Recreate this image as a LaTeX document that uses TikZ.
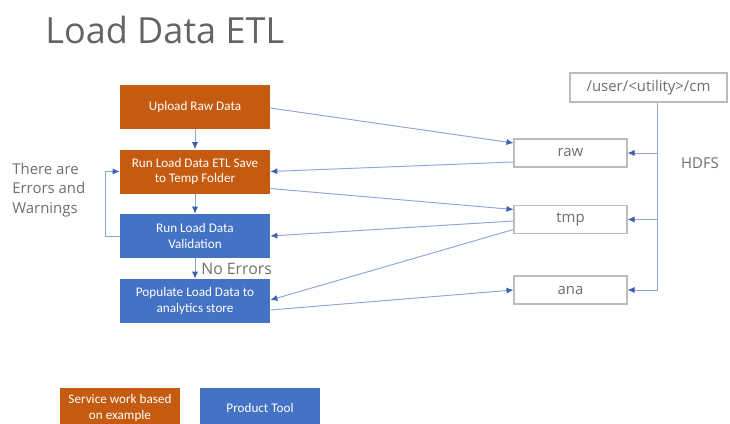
\documentclass[tikz,border=0pt]{standalone}
\usepackage{fontspec}
\setmainfont{Open Sans}
\newfontfamily\boxfont{Carlito}
\usepackage{tikz}
\usetikzlibrary{
    arrows.meta,
    positioning,
    calc
}
\tikzset{
  svc/.style    = {fill=SvcOrange, text=white, minimum width=3.0cm,
                   minimum height=0.88cm, align=center, inner sep=2pt,
                   font=\boxfont\fontsize{7.5}{9}\selectfont},
  tool/.style   = {svc, fill=ToolBlue},
  store/.style  = {draw=BoxGray, line width=0.6pt, minimum width=2.26cm,
                   minimum height=0.56cm, text=TextGray,
                   font=\fontsize{8.5}{10}\selectfont},
  lbl/.style    = {text=TextGray, align=left, inner sep=0pt,
                   font=\fontsize{8.5}{11}\selectfont},
  link/.style   = {-{Latex[length=4pt,width=3.5pt,color=TipBlue]},
                   draw=LinkBlue, line width=0.55pt}
}
\definecolor{SvcOrange}{RGB}{197,90,17}
\definecolor{ToolBlue}{RGB}{68,114,196}
\definecolor{BoxGray}{RGB}{188,188,188}
\definecolor{TextGray}{RGB}{110,110,110}
\definecolor{TitleGray}{RGB}{100,100,100}
\definecolor{LinkBlue}{RGB}{140,168,214}
\definecolor{TipBlue}{RGB}{60,95,175}

\begin{document}
\begin{tikzpicture}[x=0.02cm, y=-0.02cm]
        \useasboundingbox (0,0) rectangle (730,423);
        \node[anchor=base west, text=TitleGray, inner sep=0pt,
              font=\fontsize{20.5}{24}\selectfont] (title) at (45,43) {Load Data ETL};
        \node[svc]  (upload) at (195,107)   {Upload Raw Data};
        \node[svc]  (etl)    at (195,171.5) {Run Load Data ETL Save\\to Temp Folder};
        \node[tool] (valid)  at (195,236)   {Run Load Data\\Validation};
        \node[tool] (popul)  at (195,301)   {Populate Load Data to\\analytics store};
        \node[store] (raw) at (570.5,153)   {raw};
        \node[store] (tmp) at (570.5,219.5) {tmp};
        \node[store] (ana) at (570.5,290)   {ana};
        \node[store, minimum width=3.14cm, minimum height=0.58cm] (root) at (648.5,87.5) {/user/<utility>/cm};
        \node[lbl] (hdfs)  at (700,163) {HDFS};
        \node[lbl, anchor=west] (errs) at (12,190) {There are\\Errors and\\Warnings};
        \node[lbl, font=\fontsize{9}{11}\selectfont, anchor=west] (noerr) at (201,269) {No Errors};
        \node[svc,  minimum width=2.4cm, minimum height=0.8cm] (legsvc)  at (120,408) {Service work based\\on example};
        \node[tool, minimum width=2.4cm, minimum height=0.8cm] (legtool) at (260,408) {Product Tool};
        % flow
        \draw[link] (upload) -- (etl);
        \draw[link] (etl) -- (valid);
        \draw[link] (valid) -- (popul);
        \draw[link] (valid.west) -- ++(-14,0) |- (etl.west);
        % stores
        \draw[link] ($(upload.east)+(0,1)$) -- ($(raw.west)+(0,-10)$);
        \draw[link] ($(raw.west)+(0,9)$) -- (etl.east);
        \draw[link] ($(etl.east)+(0,17)$) -- ($(tmp.west)+(0,-10)$);
        \draw[link] ($(tmp.west)+(0,1.5)$) -- (valid.east);
        \draw[link] ($(tmp.west)+(0,10)$) -- ($(popul.east)+(0,-1)$);
        \draw[link] ($(popul.east)+(0,9)$) -- (ana.west);
        % hdfs
        \coordinate (bus) at ($(root.south)+(8.5,0)$);
        \draw[link] (bus) |- (ana.east);
        \draw[link] (bus |- raw.east) -- (raw.east);
        \draw[link] (bus |- tmp.east) -- (tmp.east);
      \end{tikzpicture}
\end{document}
